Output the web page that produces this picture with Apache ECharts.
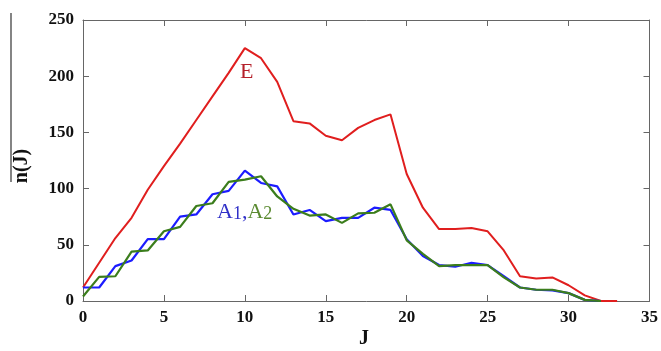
<!DOCTYPE html>
<html>
<head>
<meta charset="utf-8">
<script src="https://cdn.jsdelivr.net/npm/echarts@6/dist/echarts.min.js"></script>
<style>html,body{margin:0;padding:0;background:#fff}#c{width:661px;height:351px}</style>
</head>
<body>
<div id="c"></div>
<script>
var J = [];
for (var i = 0; i <= 33; i++) J.push(i);
var E  = [12, 34, 56, 74, 99, 120, 140, 161, 182, 203, 225, 216, 195, 160, 158, 147, 143, 154, 161, 166, 113, 83, 64, 64, 65, 62, 45, 22, 20, 21, 14, 5, 0, 0];
var A1 = [12, 12, 31, 36, 55, 55, 75, 77, 95, 98, 116, 105, 102, 77, 81, 71, 74, 74, 83, 81, 55, 40, 32, 30.5, 34, 32, 22, 12, 10, 9.5, 7, 1, 0];
var A2 = [4, 21.5, 22, 44, 45, 62, 66, 84.5, 87, 106, 108, 111, 93, 82, 76, 77, 69.5, 78, 78.5, 86, 54, 42, 31, 32, 32, 32, 21, 12, 10, 10, 7, 1, 0];
var xTicks = [0, 5, 10, 15, 20, 25, 30, 35];
var yTicks = [0, 50, 100, 150, 200, 250];

function pairs(arr) { return arr.map(function (v, k) { return [J[k], v]; }); }

var chart = echarts.init(document.getElementById('c'));
var axisCol = '#666';
var lblFont = { fontFamily: 'Liberation Serif', fontWeight: 'bold', fontSize: 17, color: '#111' };
function frameAxis(pos, isX) {
  return {
    type: 'value', show: true, position: pos, min: 0, max: isX ? 35 : 250, interval: isX ? 5 : 50,
    axisLine: { show: true, onZero: false, lineStyle: { color: axisCol, width: 1 } },
    axisTick: { show: true, inside: true, length: 6, lineStyle: { color: axisCol } },
    axisLabel: { show: false }, splitLine: { show: false }
  };
}
var blue = '#3030c8', green = '#5a8a30';
chart.setOption({
  animation: false,
  backgroundColor: '#fff',
  grid: { left: 83, right: 10, top: 20, bottom: 50 },
  xAxis: [{
    type: 'value', position: 'bottom', min: xTicks[0], max: xTicks[xTicks.length - 1], interval: 5,
    axisLine: { onZero: false, lineStyle: { color: axisCol, width: 1 } },
    axisTick: { inside: true, length: 6, lineStyle: { color: axisCol } },
    axisLabel: Object.assign({ margin: 8 }, lblFont),
    splitLine: { show: false }
  }, frameAxis('top', true)],
  yAxis: [{
    type: 'value', position: 'left', min: yTicks[0], max: yTicks[yTicks.length - 1], interval: 50,
    axisLine: { show: true, onZero: false, lineStyle: { color: axisCol, width: 1 } },
    axisTick: { show: true, inside: true, length: 6, lineStyle: { color: axisCol } },
    axisLabel: Object.assign({ margin: 9 }, lblFont),
    splitLine: { show: false }
  }, frameAxis('right', false)],
  series: [
    { name: 'E', type: 'line', data: pairs(E), showSymbol: false, lineStyle: { color: '#e01e1e', width: 2 }, z: 3 },
    { name: 'A1', type: 'line', data: pairs(A1), showSymbol: false, lineStyle: { color: '#1c1cff', width: 2.2 }, z: 4 },
    { name: 'A2', type: 'line', data: pairs(A2), showSymbol: false, lineStyle: { color: '#3b7d1c', width: 2.2 }, z: 5 },
    { name: 'frame', type: 'line', xAxisIndex: 1, yAxisIndex: 1, data: pairs(E), showSymbol: false, silent: true, lineStyle: { opacity: 0 }, z: 1 }
  ],
  graphic: [
    { type: 'text', left: 240, top: 61, style: { text: 'E', fontFamily: 'Liberation Serif', fontSize: 22, fill: '#b5202a' } },
    { type: 'text', left: 217, top: 201, style: {
      text: '{a|A}{s|1}{c|,}{b|A}{t|2}',
      fill: blue,
      rich: {
        a: { fontFamily: 'Liberation Serif', fontSize: 22, fill: blue, color: blue },
        s: { fontFamily: 'Liberation Serif', fontSize: 18, fill: blue, color: blue, verticalAlign: 'bottom' },
        c: { fontFamily: 'Liberation Serif', fontSize: 22, fill: blue, color: blue },
        b: { fontFamily: 'Liberation Serif', fontSize: 22, fill: green, color: green },
        t: { fontFamily: 'Liberation Serif', fontSize: 18, fill: green, color: green, verticalAlign: 'bottom' }
      }
    } },
    { type: 'text', x: 22, y: 166, rotation: Math.PI / 2, style: { text: 'n(J)', fontFamily: 'Liberation Serif', fontWeight: 'bold', fontSize: 20, fill: '#111', align: 'center', verticalAlign: 'middle' } },
    { type: 'line', shape: { x1: 11, y1: 13, x2: 11, y2: 182 }, style: { stroke: '#333', lineWidth: 1.2 } },
    { type: 'text', x: 364, y: 339, style: { text: 'J', fontFamily: 'Liberation Serif', fontWeight: 'bold', fontSize: 20, fill: '#111', align: 'center', verticalAlign: 'middle' } }
  ]
});
</script>
</body>
</html>
